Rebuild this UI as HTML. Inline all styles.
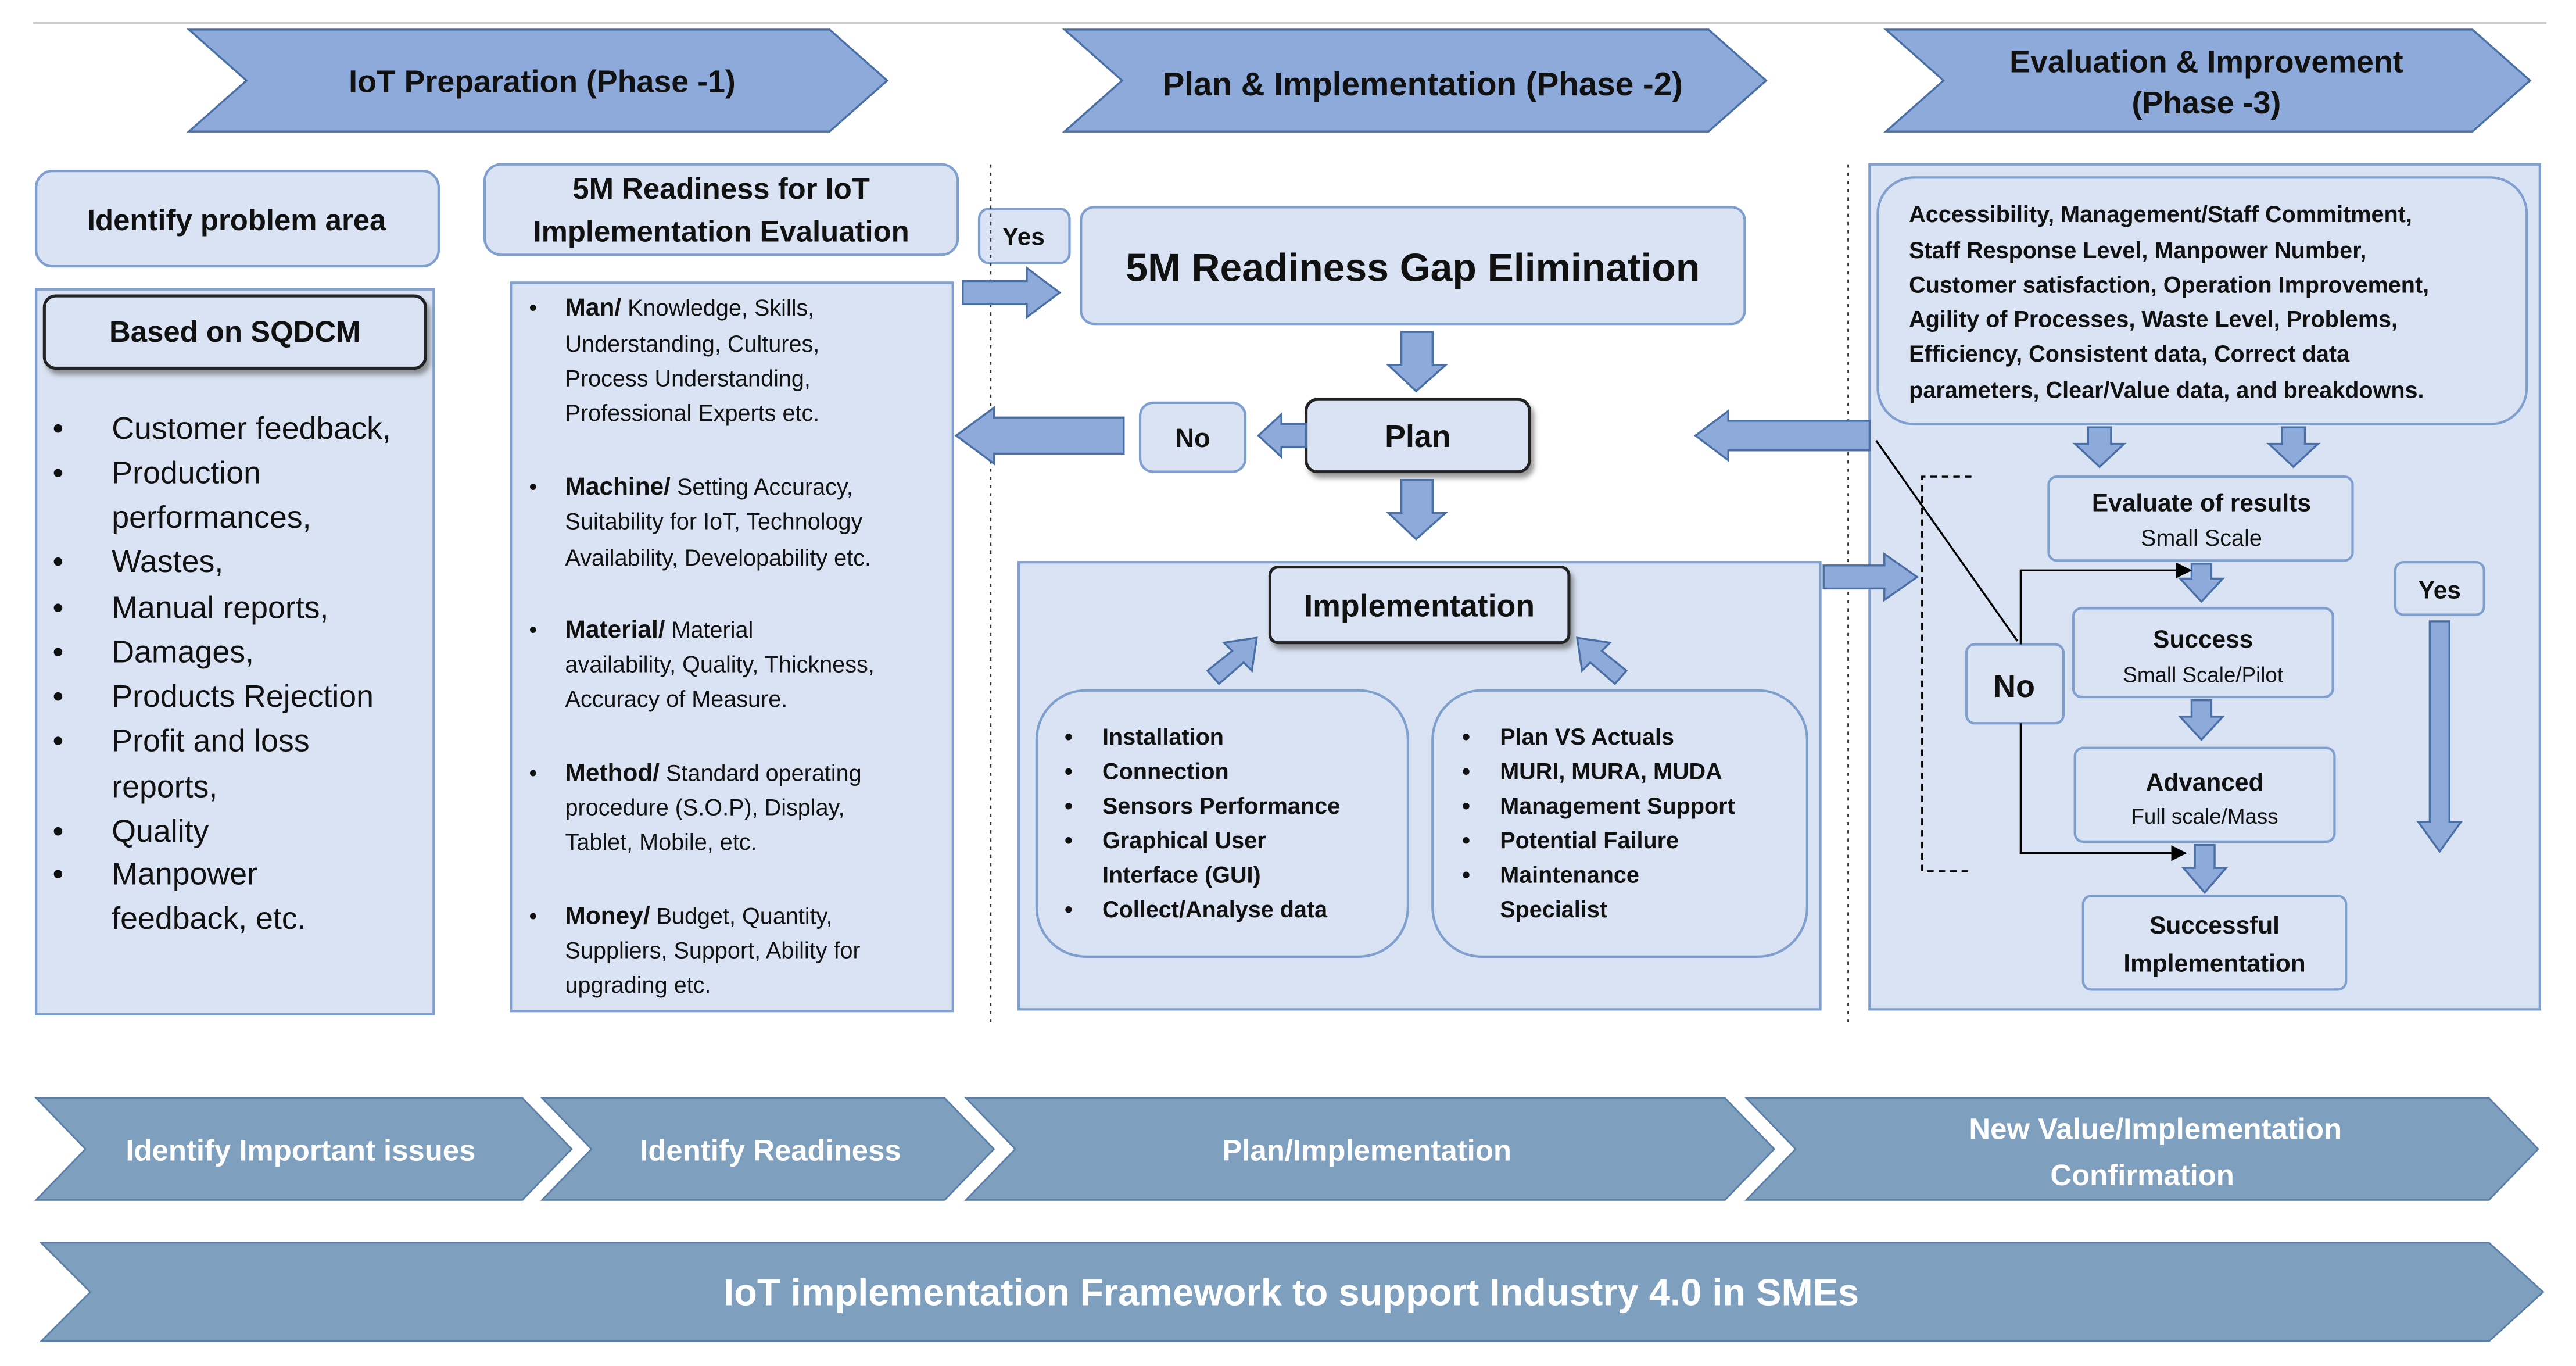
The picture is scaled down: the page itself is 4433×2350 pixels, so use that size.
<!DOCTYPE html>
<html><head><meta charset="utf-8"><style>
html,body{margin:0;padding:0;background:#fff;}
svg{display:block;}
text{font-family:"Liberation Sans",sans-serif;}
.b{font-weight:bold;fill:#111;}
.w{font-weight:bold;fill:#fff;}
</style></head><body>
<svg width="4433" height="2350" viewBox="0 0 1568 831" preserveAspectRatio="none" xmlns="http://www.w3.org/2000/svg">
<defs>
<filter id="sh" x="-10%" y="-10%" width="130%" height="140%"><feDropShadow dx="2" dy="3" stdDeviation="1.5" flood-color="#555" flood-opacity="0.6"/></filter>
<marker id="ah" markerWidth="8" markerHeight="8" refX="7" refY="4" orient="auto"><path d="M0,0 L8,4 L0,8 z" fill="#000"/></marker>
</defs>
<rect width="1568" height="831" fill="#fff"/>
<line x1="20" y1="14" x2="1550" y2="14" stroke="#ccc" stroke-width="1.5"/>
<g fill="#8eaadb" stroke="#4a6fa5" stroke-width="1.2">
<polygon points="115,18 505,18 540,49 505,80 115,80 150,49"/>
<polygon points="648,18 1040,18 1075,49 1040,80 648,80 683,49"/>
<polygon points="1148,18 1505,18 1540,49 1505,80 1148,80 1183,49"/>
</g>
<text x="330" y="56" class="b" font-size="19" text-anchor="middle">IoT Preparation (Phase -1)</text>
<text x="866" y="58" class="b" font-size="20" text-anchor="middle">Plan &amp; Implementation (Phase -2)</text>
<text x="1343" y="44" class="b" font-size="19" text-anchor="middle">Evaluation &amp; Improvement</text>
<text x="1343" y="69" class="b" font-size="19" text-anchor="middle">(Phase -3)</text>

<g fill="#dae3f3" stroke="#7f9fcf" stroke-width="1.5">
<rect x="22" y="104" width="245" height="58" rx="10"/>
<rect x="22" y="176" width="242" height="441"/>
<rect x="295" y="100" width="288" height="55" rx="10"/>
<rect x="311" y="172" width="269" height="443"/>
<rect x="596" y="127" width="55" height="33" rx="6"/>
<rect x="658" y="126" width="404" height="71" rx="8"/>
<rect x="694" y="245" width="64" height="42" rx="8"/>
<rect x="620" y="342" width="488" height="272"/>
<rect x="631" y="420" width="226" height="162" rx="30"/>
<rect x="872" y="420" width="228" height="162" rx="30"/>
<rect x="1138" y="100" width="408" height="514"/>
<rect x="1143" y="108" width="395" height="150" rx="22"/>
<rect x="1247" y="290" width="185" height="51" rx="5"/>
<rect x="1262" y="370" width="158" height="54" rx="5"/>
<rect x="1263" y="455" width="158" height="57" rx="5"/>
<rect x="1268" y="545" width="160" height="57" rx="5"/>
<rect x="1197" y="392" width="59" height="48" rx="5"/>
<rect x="1458" y="342" width="54" height="32" rx="5"/>
</g>
<g fill="#dae3f3" stroke="#222" stroke-width="1.8" filter="url(#sh)">
<rect x="27" y="180" width="232" height="44" rx="7"/>
<rect x="795" y="243" width="136" height="44" rx="7"/>
<rect x="773" y="345" width="182" height="46" rx="5"/>
</g>
<line x1="603" y1="100" x2="603" y2="622" stroke="#333" stroke-dasharray="2,3"/>
<line x1="1125" y1="100" x2="1125" y2="622" stroke="#333" stroke-dasharray="2,3"/>

<g fill="#8eaadb" stroke="#4a6fa5" stroke-width="1.2">
<polygon points="586,171 625,171 625,163 645,178 625,193 625,185 586,185"/>
<polygon points="853,202 872,202 872,222 880,222 862,238 845,222 853,222"/>
<polygon points="853,292 872,292 872,312 880,312 862,328 845,312 853,312"/>
<polygon points="795,258 780,258 780,252 766,265 780,278 780,272 795,272"/>
<polygon points="684,254 605,254 605,248 582,265 605,282 605,276 684,276"/>
<polygon points="1138,256 1052,256 1052,250 1032,265 1052,280 1052,274 1138,274"/>
<polygon points="1110,344 1147,344 1147,337 1167,351 1147,365 1147,358 1110,358"/>
<polygon points="735,408 750,396 745,391 765,388 762,408 757,403 742,416"/>
<polygon points="990,408 975,396 980,391 960,388 963,408 968,403 983,416"/>
<polygon points="1271,260 1285,260 1285,270 1293,270 1278,284 1263,270 1271,270"/>
<polygon points="1389,260 1403,260 1403,270 1411,270 1396,284 1381,270 1389,270"/>
<polygon points="1334,343 1346,343 1346,352 1353,352 1340,366 1327,352 1334,352"/>
<polygon points="1334,426 1346,426 1346,436 1353,436 1340,450 1327,436 1334,436"/>
<polygon points="1336,514 1348,514 1348,528 1355,528 1342,543 1329,528 1336,528"/>
<polygon points="1479,378 1491,378 1491,500 1498,500 1485,518 1472,500 1479,500"/>
</g>
<g stroke="#000" stroke-width="1.2" fill="none">
<line x1="1142" y1="268" x2="1228" y2="390"/>
<polyline points="1230,392 1230,347 1333,347" marker-end="url(#ah)"/>
<polyline points="1230,440 1230,519 1330,519" marker-end="url(#ah)"/>
<polyline points="1200,290 1170,290 1170,530 1200,530" stroke-dasharray="4,3"/>
</g>

<text x="144" y="140" class="b" font-size="18" text-anchor="middle">Identify problem area</text>
<text x="143" y="208" class="b" font-size="18" text-anchor="middle">Based on SQDCM</text>
<g font-size="19" fill="#111">
<text x="32" y="267">•</text><text x="68" y="267">Customer feedback,</text>
<text x="32" y="294">•</text><text x="68" y="294">Production</text>
<text x="68" y="321">performances,</text>
<text x="32" y="348">•</text><text x="68" y="348">Wastes,</text>
<text x="32" y="376">•</text><text x="68" y="376">Manual reports,</text>
<text x="32" y="403">•</text><text x="68" y="403">Damages,</text>
<text x="32" y="430">•</text><text x="68" y="430">Products Rejection</text>
<text x="32" y="457">•</text><text x="68" y="457">Profit and loss</text>
<text x="68" y="485">reports,</text>
<text x="32" y="512">•</text><text x="68" y="512">Quality</text>
<text x="32" y="538">•</text><text x="68" y="538">Manpower</text>
<text x="68" y="565">feedback, etc.</text>
</g>
<text x="439" y="121" class="b" font-size="18" text-anchor="middle">5M Readiness for IoT</text>
<text x="439" y="147" class="b" font-size="18" text-anchor="middle">Implementation Evaluation</text>
<g font-size="14" fill="#111">
<text x="322" y="192">•</text><text x="344" y="192"><tspan font-weight="bold" font-size="15">Man/</tspan> Knowledge, Skills,</text>
<text x="344" y="214">Understanding, Cultures,</text>
<text x="344" y="235">Process Understanding,</text>
<text x="344" y="256">Professional Experts etc.</text>
<text x="322" y="301">•</text><text x="344" y="301"><tspan font-weight="bold" font-size="15">Machine/</tspan> Setting Accuracy,</text>
<text x="344" y="322">Suitability for IoT, Technology</text>
<text x="344" y="344">Availability, Developability etc.</text>
<text x="322" y="388">•</text><text x="344" y="388"><tspan font-weight="bold" font-size="15">Material/</tspan> Material</text>
<text x="344" y="409">availability, Quality, Thickness,</text>
<text x="344" y="430">Accuracy of Measure.</text>
<text x="322" y="475">•</text><text x="344" y="475"><tspan font-weight="bold" font-size="15">Method/</tspan> Standard operating</text>
<text x="344" y="496">procedure (S.O.P), Display,</text>
<text x="344" y="517">Tablet, Mobile, etc.</text>
<text x="322" y="562">•</text><text x="344" y="562"><tspan font-weight="bold" font-size="15">Money/</tspan> Budget, Quantity,</text>
<text x="344" y="583">Suppliers, Support, Ability for</text>
<text x="344" y="604">upgrading etc.</text>
</g>
<text x="623" y="149" class="b" font-size="15" text-anchor="middle">Yes</text>
<text x="860" y="171" class="b" font-size="24" text-anchor="middle">5M Readiness Gap Elimination</text>
<text x="863" y="272" class="b" font-size="19" text-anchor="middle">Plan</text>
<text x="726" y="272" class="b" font-size="16" text-anchor="middle">No</text>
<text x="864" y="375" class="b" font-size="19" text-anchor="middle">Implementation</text>
<g font-size="14" font-weight="bold" fill="#111">
<text x="648" y="453">•</text><text x="671" y="453">Installation</text>
<text x="648" y="474">•</text><text x="671" y="474">Connection</text>
<text x="648" y="495">•</text><text x="671" y="495">Sensors Performance</text>
<text x="648" y="516">•</text><text x="671" y="516">Graphical User</text>
<text x="671" y="537">Interface (GUI)</text>
<text x="648" y="558">•</text><text x="671" y="558">Collect/Analyse data</text>
<text x="890" y="453">•</text><text x="913" y="453">Plan VS Actuals</text>
<text x="890" y="474">•</text><text x="913" y="474">MURI, MURA, MUDA</text>
<text x="890" y="495">•</text><text x="913" y="495">Management Support</text>
<text x="890" y="516">•</text><text x="913" y="516">Potential Failure</text>
<text x="890" y="537">•</text><text x="913" y="537">Maintenance</text>
<text x="913" y="558">Specialist</text>
</g>
<g font-size="14" font-weight="bold" fill="#111">
<text x="1162" y="135">Accessibility, Management/Staff Commitment,</text>
<text x="1162" y="157">Staff Response Level, Manpower Number,</text>
<text x="1162" y="178">Customer satisfaction, Operation Improvement,</text>
<text x="1162" y="199">Agility of Processes, Waste Level, Problems,</text>
<text x="1162" y="220">Efficiency, Consistent data, Correct data</text>
<text x="1162" y="242">parameters, Clear/Value data, and breakdowns.</text>
</g>
<text x="1340" y="311" class="b" font-size="15" text-anchor="middle">Evaluate of results</text>
<text x="1340" y="332" font-size="14" text-anchor="middle" fill="#111">Small Scale</text>
<text x="1341" y="394" class="b" font-size="15" text-anchor="middle">Success</text>
<text x="1341" y="415" font-size="13" text-anchor="middle" fill="#111">Small Scale/Pilot</text>
<text x="1342" y="481" class="b" font-size="15" text-anchor="middle">Advanced</text>
<text x="1342" y="501" font-size="13" text-anchor="middle" fill="#111">Full scale/Mass</text>
<text x="1348" y="568" class="b" font-size="15" text-anchor="middle">Successful</text>
<text x="1348" y="591" class="b" font-size="15" text-anchor="middle">Implementation</text>
<text x="1226" y="424" class="b" font-size="19" text-anchor="middle">No</text>
<text x="1485" y="364" class="b" font-size="15" text-anchor="middle">Yes</text>

<g fill="#7f9fbf" stroke="#5a7ea6" stroke-width="1">
<polygon points="22,668 318,668 348,699 318,730 22,730 52,699"/>
<polygon points="330,668 575,668 605,699 575,730 330,730 360,699"/>
<polygon points="588,668 1050,668 1080,699 1050,730 588,730 618,699"/>
<polygon points="1063,668 1515,668 1545,699 1515,730 1063,730 1093,699"/>
<polygon points="25,756 1515,756 1548,786 1515,816 25,816 55,786"/>
</g>
<text x="183" y="706" class="w" font-size="18" text-anchor="middle">Identify Important issues</text>
<text x="469" y="706" class="w" font-size="18" text-anchor="middle">Identify Readiness</text>
<text x="832" y="706" class="w" font-size="18" text-anchor="middle">Plan/Implementation</text>
<text x="1312" y="693" class="w" font-size="18" text-anchor="middle">New Value/Implementation</text>
<text x="1304" y="721" class="w" font-size="18" text-anchor="middle">Confirmation</text>
<text x="786" y="794" class="w" font-size="23" text-anchor="middle">IoT implementation Framework to support Industry 4.0 in SMEs</text>
</svg>
</body></html>
